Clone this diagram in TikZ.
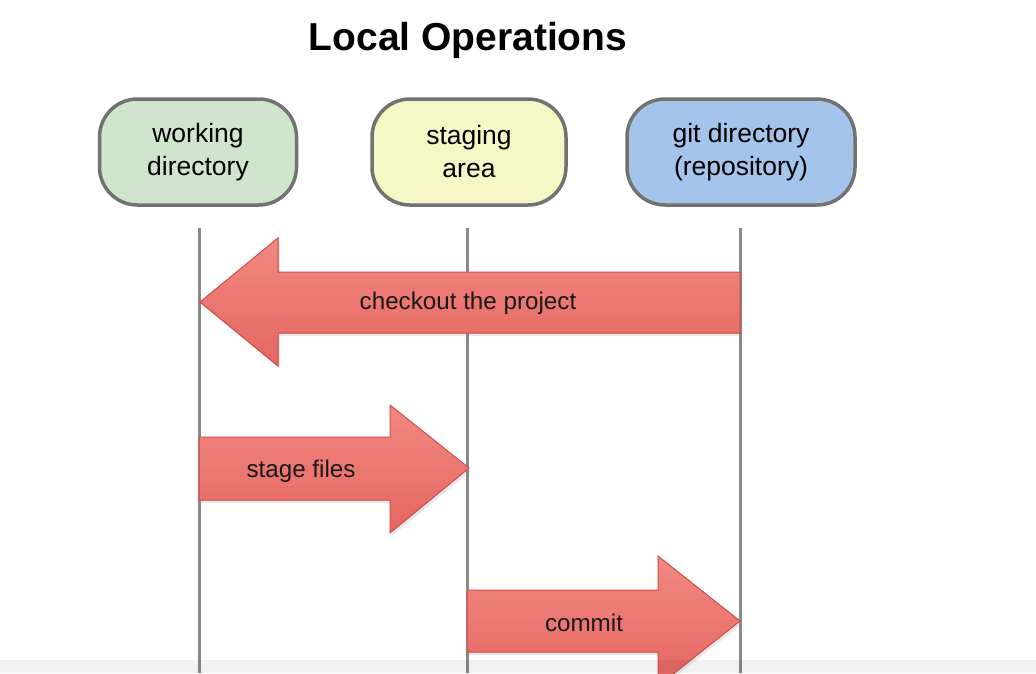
\documentclass[tikz,border=0pt]{standalone}
\usepackage{fontspec}
\setmainfont{Liberation Sans}
\usetikzlibrary{shadows}
\definecolor{wdfill}{HTML}{CFE5CC}
\definecolor{safill}{HTML}{F6F7C4}
\definecolor{gdfill}{HTML}{A5C4EB}
\definecolor{boxline}{HTML}{727272}
\definecolor{laneline}{HTML}{8A8A8A}
\definecolor{arrowtop}{HTML}{F28882}
\definecolor{arrowbot}{HTML}{E56660}
\definecolor{arrowline}{HTML}{D24E48}
\tikzset{
  area/.style={draw=boxline, line width=3.5pt, rounded corners=38pt,
    minimum height=106pt, align=center, font=\fontsize{26.5}{33}\selectfont},
  lane/.style={draw=laneline, line width=3pt},
  blockarrow/.style={draw=arrowline, line width=1pt, line join=miter,
    top color=arrowtop, bottom color=arrowbot,
    drop shadow={shadow xshift=2pt, shadow yshift=-3pt, opacity=0.18}},
  arrowlabel/.style={font=\fontsize{24.2}{29}\selectfont, text=black!90}
}
\begin{document}
\begin{tikzpicture}[x=1pt, y=-1pt]
\useasboundingbox (0,0) rectangle (1036,673);
\fill[white] (0,0) rectangle (1036,673);

% title
\node[font=\bfseries\fontsize{39}{44}\selectfont] (title) at (468,40) {Local Operations};

% the three areas
\node[area, fill=wdfill, minimum width=197pt] (wd) at (198,152) {working\\directory};
\node[area, fill=safill, minimum width=194pt] (sa) at (469,152) {staging\\area};
\node[area, fill=gdfill, minimum width=228pt] (gd) at (741,152) {git directory\\(repository)};

% lanes below each area
\coordinate (wdtop) at (199,228);  \coordinate (wdbot) at (199,673);
\coordinate (satop) at (467,228);  \coordinate (sabot) at (467,673);
\coordinate (gdtop) at (740,228);  \coordinate (gdbot) at (740,673);
\draw[lane] (wdtop) -- (wdbot);
\draw[lane] (satop) -- (sabot);
\draw[lane] (gdtop) -- (gdbot);

% checkout: git directory -> working directory
\filldraw[blockarrow] (200,302) -- (278,238) -- (278,272) -- (740,272)
  -- (740,333) -- (278,333) -- (278,366) -- cycle;
\node[arrowlabel] (checkout) at (468,303) {checkout the project};

% stage files: working directory -> staging area
\filldraw[blockarrow] (199,437) -- (390,437) -- (390,405) -- (469,468)
  -- (390,533) -- (390,500) -- (199,500) -- cycle;
\node[arrowlabel] (stage) at (301,471) {stage files};

% commit: staging area -> git directory
\filldraw[blockarrow] (467,590) -- (658,590) -- (658,556) -- (740,621)
  -- (658,686) -- (658,652) -- (467,652) -- cycle;
\node[arrowlabel] (commit) at (584,623) {commit};

% faint band along the lower edge
\fill[black, opacity=0.05] (0,660) rectangle (1036,673);
\end{tikzpicture}
\end{document}
